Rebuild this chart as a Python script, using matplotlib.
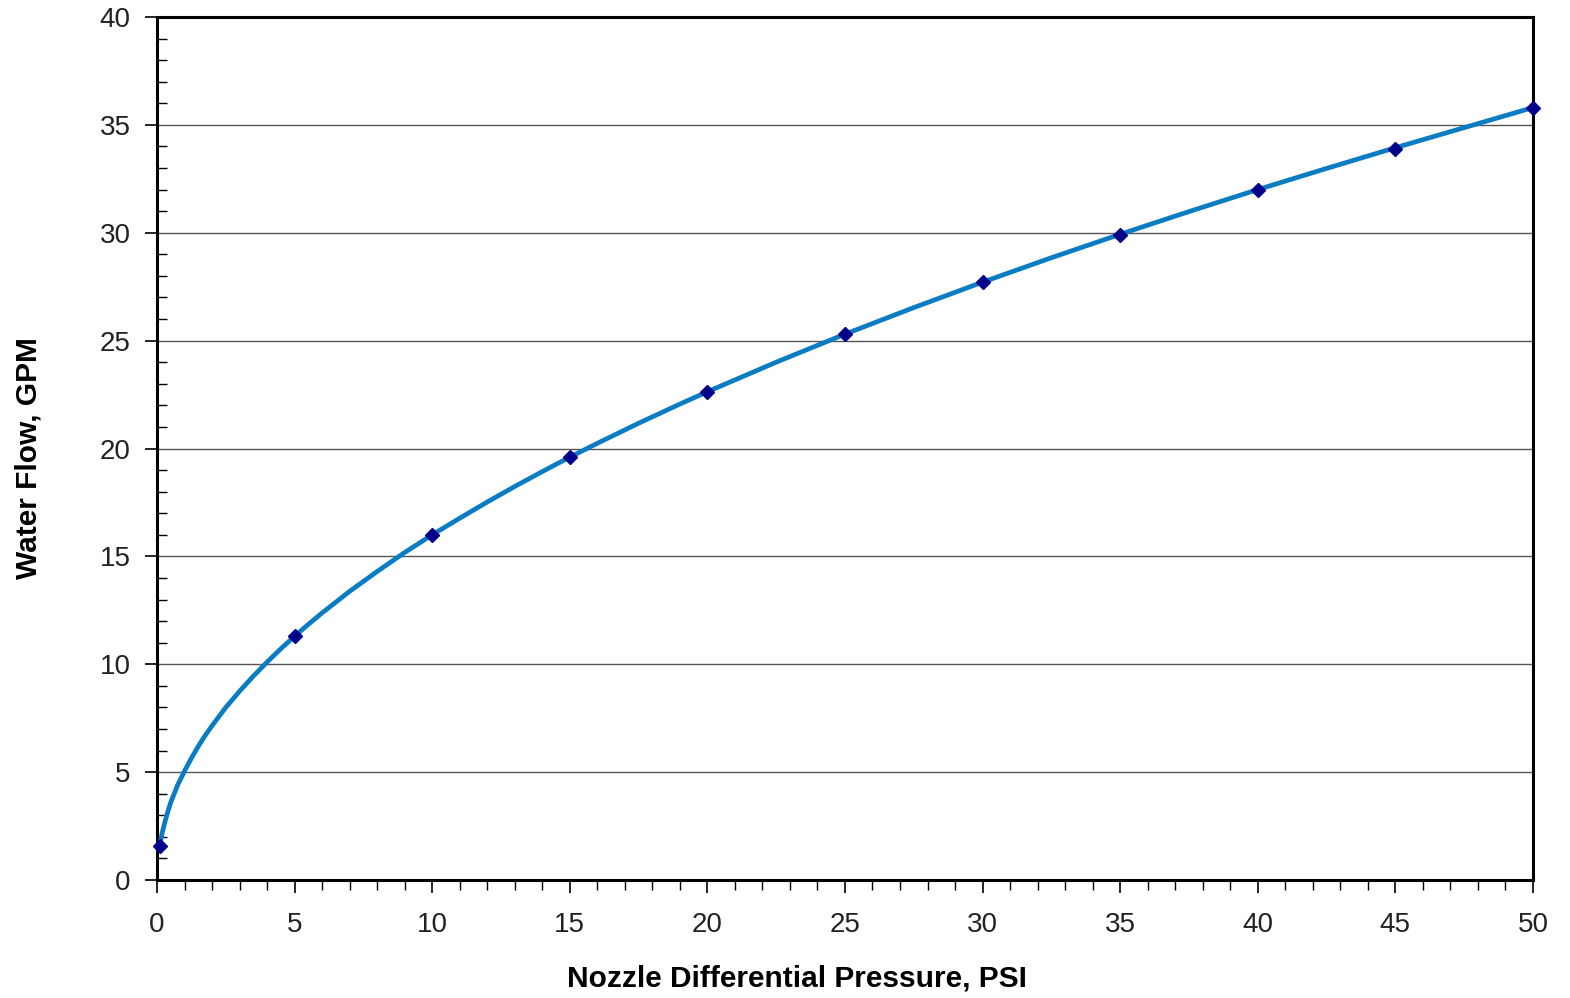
import matplotlib.pyplot as plt
from matplotlib.ticker import MultipleLocator

# measured points (markers)
psi_pts = [0.1, 5, 10, 15, 20, 25, 30, 35, 40, 45, 50]
gpm_pts = [1.6, 11.3, 16.0, 19.6, 22.6, 25.3, 27.7, 29.9, 32.0, 33.9, 35.8]

# smooth curve
psi_curve = [0.1, 0.15, 0.2, 0.3, 0.4, 0.5, 0.75, 1, 1.25, 1.5, 1.75, 2, 2.5, 3, 3.5, 4,
             4.5, 5, 5.5, 6, 7, 8, 9, 10, 11, 12, 13, 14, 15, 16, 17.5, 19, 20, 22.5,
             25, 27.5, 30, 32.5, 35, 37.5, 40, 42.5, 45, 47.5, 50]
gpm_curve = [1.6, 1.95, 2.25, 2.75, 3.2, 3.6, 4.4, 5.05, 5.65, 6.2, 6.7, 7.15, 8.0, 8.75,
             9.45, 10.1, 10.72, 11.3, 11.85, 12.38, 13.38, 14.3, 15.18, 16.0, 16.77, 17.52,
             18.24, 18.93, 19.6, 20.24, 21.17, 22.06, 22.63, 24.0, 25.3, 26.53, 27.71,
             28.84, 29.93, 30.98, 32.0, 32.98, 33.94, 34.87, 35.8]

plt.rcParams['font.family'] = ['Liberation Sans', 'DejaVu Sans']

fig = plt.figure(figsize=(15.7, 9.98), dpi=100)
ax = fig.add_axes([0.1, 0.1182, 0.8764, 0.8648])

ax.plot(psi_curve, gpm_curve, color='#0a7cc3', lw=3.4, zorder=3, clip_on=False,
        solid_joinstyle='round', solid_capstyle='round')
ax.plot(psi_pts, gpm_pts, ls='none', marker='D', ms=7.5, color='#00008b', zorder=4, clip_on=False)

ax.set_xlim(0, 50)
ax.set_ylim(0, 40)
ax.xaxis.set_major_locator(MultipleLocator(5))
ax.xaxis.set_minor_locator(MultipleLocator(1))
ax.yaxis.set_major_locator(MultipleLocator(5))
ax.yaxis.set_minor_locator(MultipleLocator(1))

ax.grid(axis='y', which='major', color='#555555', lw=1)
ax.set_axisbelow(True)
for s in ax.spines.values():
    s.set_linewidth(2.2)
    s.set_color('black')

ax.tick_params(which='major', direction='out', length=9, width=1.2, labelsize=20, pad=10,
               labelcolor='#222222')
ax.tick_params(which='minor', direction='out', length=7, width=1.0)
ax.tick_params(axis='y', which='minor', direction='in')
ax.tick_params(axis='x', which='major', pad=14)

ax.set_xlabel('Nozzle Differential Pressure, PSI', fontsize=21.5, fontweight='bold')
ax.set_ylabel('Water Flow, GPM', fontsize=21.5, fontweight='bold')
ax.xaxis.set_label_coords(0.465, -0.098)
ax.yaxis.set_label_coords(-0.083, 0.489)

fig.savefig('out.png', dpi=100)
